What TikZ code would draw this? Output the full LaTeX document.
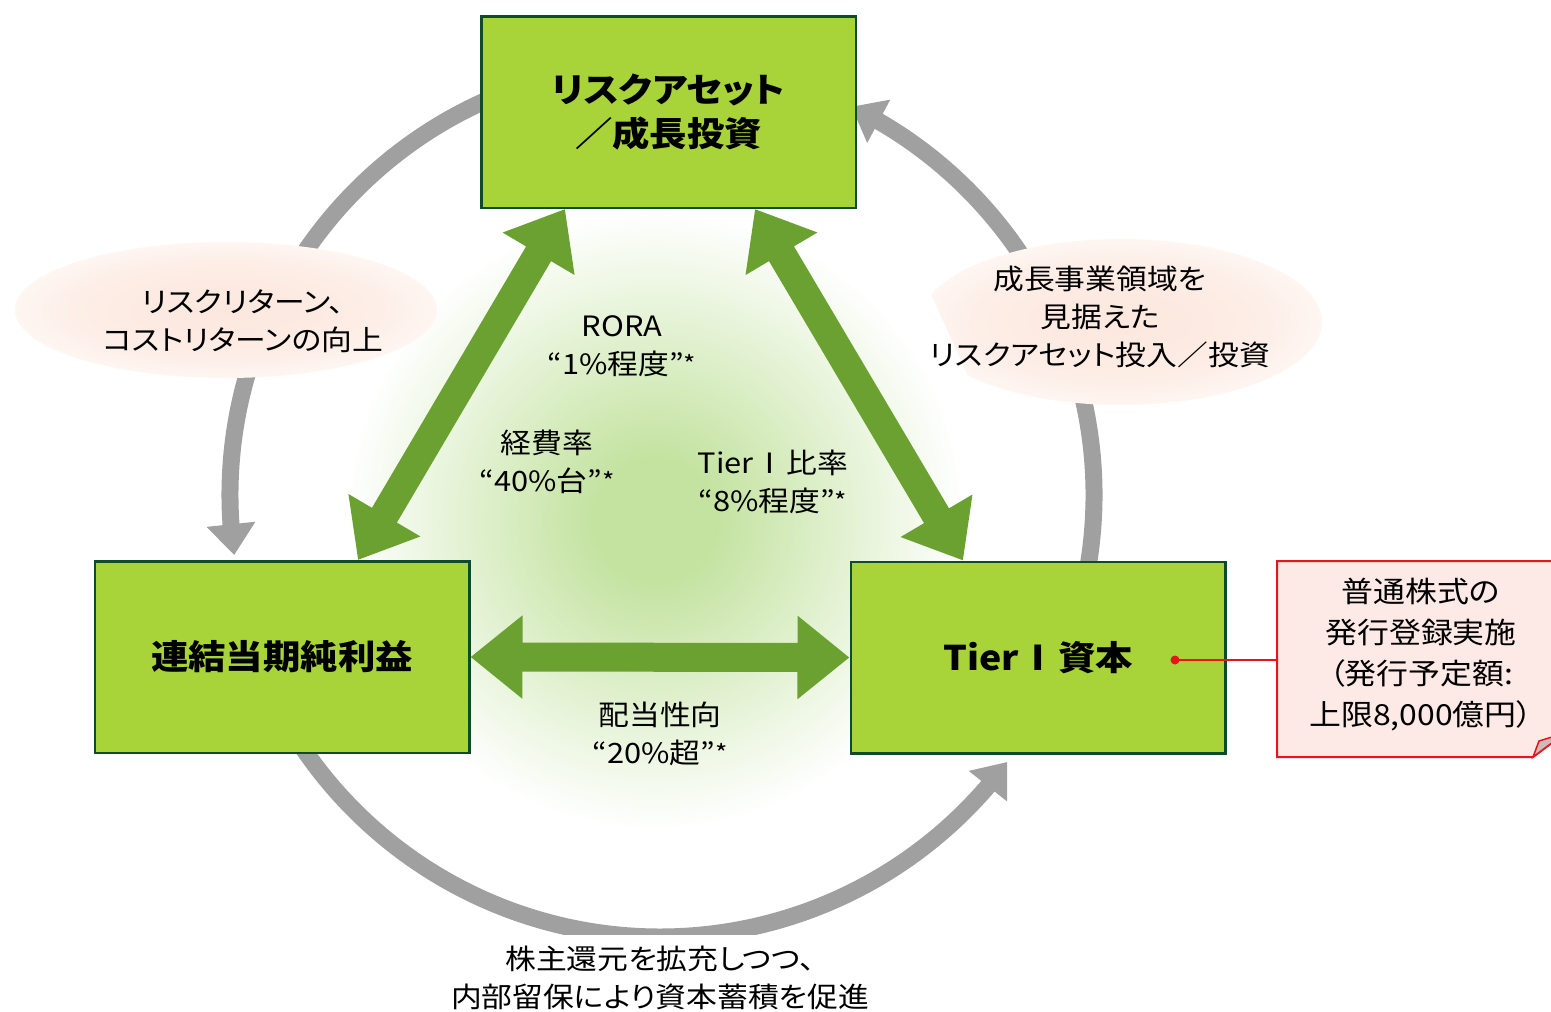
\documentclass[tikz,border=0pt]{standalone}
\usepackage{fontspec}
\setmainfont{Noto Sans CJK JP}[FakeStretch=1.1,RawFeature=+palt]
\usetikzlibrary{arrows.meta,bending,calc}
\definecolor{boxfill}{HTML}{A9D439}
\definecolor{boxline}{HTML}{0E4A2C}
\definecolor{arrgreen}{HTML}{6AA131}
\definecolor{arcgray}{HTML}{A0A0A0}
\definecolor{peach}{HTML}{FDEEE7}
\definecolor{peachc}{HTML}{FCE7DD}
\definecolor{peachedge}{HTML}{FEF6F2}
\definecolor{glowc}{HTML}{C4E3A1}
\definecolor{callfill}{HTML}{FDEAE6}
\definecolor{callred}{HTML}{E8141C}
\definecolor{foldgray}{HTML}{C9BDBA}
\pgfdeclareradialshading{glow}{\pgfpointorigin}{color(0bp)=(glowc); color(5bp)=(glowc); color(25bp)=(white); color(50bp)=(white)}
\pgfdeclareradialshading{peachglow}{\pgfpointorigin}{color(0bp)=(peachc); color(18bp)=(peach); color(25bp)=(peachedge); color(50bp)=(peachedge)}
\newcommand{\fnmark}{\raisebox{1pt}{\fontsize{24}{24}\selectfont *}}
\begin{document}
\begin{tikzpicture}[x=1pt,y=-1pt,
  box/.style={draw=boxline, line width=2.5pt, fill=boxfill, minimum width=374.5pt,
    minimum height=191.5pt, font=\fontsize{34}{44}\selectfont\bfseries, align=center, inner sep=0pt},
  lbl/.style={font=\fontsize{28}{38}\selectfont, align=center, inner sep=0pt, text=black},
  garrow/.style={draw=arrgreen, line width=29pt,
    {Triangle[width=80pt,length=52pt]}-{Triangle[width=80pt,length=52pt]}},
  grayarc/.style={draw=arcgray, line width=17pt, -{Triangle[width=47pt,length=31pt]}},
]
\clip (0,0) rectangle (1551,1012);
\fill[white] (0,0) rectangle (1551,1012);

% central glow
\shade[shading=glow] (655,520) circle (310);

% gray cycle arcs
\coordinate (c) at (662,495);
\coordinate (cb) at (660,505);
\draw[grayarc] ($(c)+(250:432)$) arc[start angle=250,end angle=172,radius=432];
\draw[grayarc] ($(cb)+(148:432)$) arc[start angle=148,end angle=36.5,radius=432];
\draw[grayarc] ($(c)+(12:432)$) arc[start angle=12,end angle=-64,radius=432];

% peach ellipses
\shade[shading=peachglow] (226,310) ellipse [x radius=211, y radius=68];
\begin{scope}
  \clip (902,230) -- (1340,230) -- (1340,420) -- (988,420) -- cycle;
  \shade[shading=peachglow] (1121,322) ellipse [x radius=201, y radius=83];
\end{scope}

% boxes
\node[box] (top) at (668.5,112) {リスクアセット\\／成長投資};
\node[box] (left) at (282,657) {連結当期純利益};
\node[box] (right) at (1038,657.5) {Tier\kern1pt Ⅰ\kern1pt 資本};

% green double arrows
\draw[garrow] ([xshift=-103.5pt]top.south) -- ([xshift=76pt]left.north);
\draw[garrow] ([xshift=86.5pt]top.south) -- ([xshift=-75pt]right.north);
\draw[garrow] (left.east) -- (right.west);

% labels
\node[lbl] (rora) at (622,346) {RORA\\“1\%程度”\fnmark};
\node[lbl] (keihi) at (547,462) {経費率\\“40\%台”\fnmark};
\node[lbl] (tier) at (773,482) {Tier\kern1pt Ⅰ\kern1pt 比率\\“8\%程度”\fnmark};
\node[lbl] (haito) at (660,734) {配当性向\\“20\%超”\fnmark};
\node[lbl, fill=white, anchor=north, inner xsep=6pt, inner ysep=11pt] (kabu) at (660,935)
  {株主還元を拡充しつつ、\\内部留保により資本蓄積を促進};
\node[lbl] (risk) at (243,321) {リスクリターン、\\コストリターンの向上};
\node[lbl] (seicho) at (1100,317) {成長事業領域を\\見据えた\\リスクアセット投入／投資};

% callout
\draw[draw=callred, line width=2pt, fill=callfill]
  (1277,561) -- (1565,561) -- (1565,733) -- (1533,757) -- (1277,757) -- cycle;
\filldraw[draw=callred, line width=1.5pt, fill=foldgray]
  (1533,757) -- (1539,741) -- (1565,733) -- cycle;
\node[lbl, font=\fontsize{29}{41}\selectfont, minimum width=288pt, minimum height=196pt]
  (callout) at (1421,655) {普通株式の\\発行登録実施\\（発行予定額:\\上限8,000億円）};
\node[circle, fill=callred, inner sep=0pt, minimum size=9pt] (dot) at (1175,660) {};
\draw[callred, line width=1.5pt] (dot.center) -- (callout.west |- dot.center);
\end{tikzpicture}
\end{document}
